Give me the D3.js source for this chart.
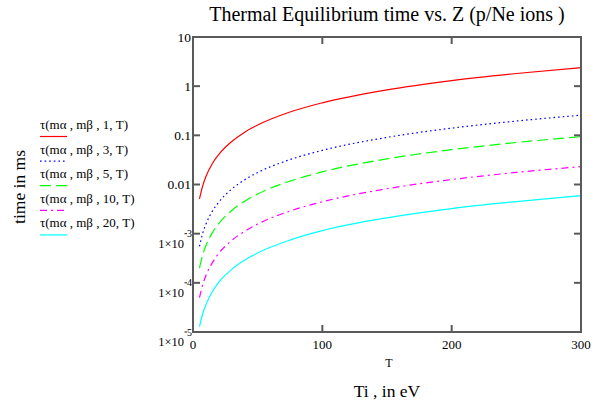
<!DOCTYPE html>
<html>
<head>
<meta charset="utf-8">
<script src="https://cdn.jsdelivr.net/npm/d3@7"></script>
<style>
  body { margin: 0; background: #fff; }
  svg text { font-family: "Liberation Serif", "Times New Roman", serif; fill: #000; }
</style>
</head>
<body>
<div id="chart"></div>
<script>
var width = 602;
var height = 405;

// temperature samples (eV)
var temps = [5, 7.5, 10, 15, 20, 30, 40, 50, 75, 100, 150, 200, 250, 300];

// tau in ms, one array per Z
var tauZ1  = [0.0051, 0.0094, 0.0145, 0.0267, 0.041, 0.075, 0.116, 0.162, 0.298, 0.459, 0.843, 1.30, 1.81, 2.38];
var tauZ3  = [5.5e-4, 1.02e-3, 1.56e-3, 2.87e-3, 4.4e-3, 8.1e-3, 0.0125, 0.0175, 0.0321, 0.0495, 0.0909, 0.140, 0.195, 0.257];
var tauZ5  = [2.0e-4, 3.7e-4, 5.7e-4, 1.05e-3, 1.62e-3, 2.97e-3, 4.57e-3, 6.4e-3, 0.0117, 0.0181, 0.0332, 0.0511, 0.0715, 0.094];
var tauZ10 = [5.0e-5, 9.1e-5, 1.41e-4, 2.58e-4, 4.0e-4, 7.3e-4, 1.12e-3, 1.57e-3, 2.89e-3, 4.45e-3, 8.2e-3, 0.0126, 0.0176, 0.0231];
var tauZ20 = [1.28e-5, 2.35e-5, 3.6e-5, 6.65e-5, 1.03e-4, 1.88e-4, 2.9e-4, 4.05e-4, 7.4e-4, 1.15e-3, 2.1e-3, 3.24e-3, 4.5e-3, 5.96e-3];

var legendLabels = ["τ(mα , mβ , 1, T)", "τ(mα , mβ , 3, T)", "τ(mα , mβ , 5, T)", "τ(mα , mβ , 10, T)", "τ(mα , mβ , 20, T)"];
var xTicks = [0, 100, 200, 300];
var yTicks = [10, 1, 0.1, 0.01, 1e-3, 1e-4, 1e-5];
var yTickLabels = ["10", "1", "0.1", "0.01", "1×10|3", "1×10|4", "1×10|5"];

var series = [
    {values: tauZ1,  color: "#ff0000", dash: null},
    {values: tauZ3,  color: "#0000ff", dash: "1.6,3"},
    {values: tauZ5,  color: "#00ff00", dash: "11,5"},
    {values: tauZ10, color: "#ff00ff", dash: "7,4,2,4"},
    {values: tauZ20, color: "#00ffff", dash: null}
];

var plot = {left: 193, right: 581, top: 37, bottom: 332};

var svg = d3.select("#chart").append("svg")
    .attr("width", width)
    .attr("height", height);

var x = d3.scaleLinear().domain([0, 300]).range([plot.left, plot.right]);
var y = d3.scaleLog().domain([1e-5, 10]).range([plot.bottom, plot.top]);

// curves
var line = d3.line()
    .x(d => x(d[0]))
    .y(d => y(d[1]))
    .curve(d3.curveMonotoneX);

series.forEach(s => {
    var pts = temps.map((t, i) => [t, s.values[i]]);
    svg.append("path")
        .attr("d", line(pts))
        .style("fill", "none")
        .style("stroke", s.color)
        .style("stroke-width", "1.2px")
        .style("stroke-dasharray", s.dash);
});

// frame
var frameColor = "#5a5a5a";
svg.append("rect")
    .attr("x", plot.left).attr("y", plot.top)
    .attr("width", plot.right - plot.left).attr("height", plot.bottom - plot.top)
    .style("fill", "none").style("stroke", frameColor).style("stroke-width", "2px");

var tickLen = 7;
// y ticks on both sides, pointing inward
svg.selectAll(".ytl").data(yTicks).enter().append("line")
    .attr("x1", plot.left).attr("x2", plot.left + tickLen)
    .attr("y1", d => y(d)).attr("y2", d => y(d))
    .style("stroke", frameColor).style("stroke-width", "2px");
svg.selectAll(".ytr").data(yTicks).enter().append("line")
    .attr("x1", plot.right - tickLen).attr("x2", plot.right)
    .attr("y1", d => y(d)).attr("y2", d => y(d))
    .style("stroke", frameColor).style("stroke-width", "2px");

// x ticks top and bottom
svg.selectAll(".xtb").data(xTicks).enter().append("line")
    .attr("x1", d => x(d)).attr("x2", d => x(d))
    .attr("y1", plot.bottom - tickLen).attr("y2", plot.bottom)
    .style("stroke", frameColor).style("stroke-width", "2px");
svg.selectAll(".xtt").data(xTicks).enter().append("line")
    .attr("x1", d => x(d)).attr("x2", d => x(d))
    .attr("y1", plot.top).attr("y2", plot.top + tickLen)
    .style("stroke", frameColor).style("stroke-width", "2px");

// x tick labels
svg.selectAll(".xlab").data(xTicks).enter().append("text")
    .attr("x", d => x(d)).attr("y", 349)
    .attr("text-anchor", "middle")
    .style("font-size", "13px")
    .text(d => d);

// y tick labels, exponent labels sit lower with superscript at the tick
yTicks.forEach((v, i) => {
    var lab = yTickLabels[i];
    if (lab.indexOf("|") < 0) {
        svg.append("text")
            .attr("x", 191).attr("y", y(v) + 4.5)
            .attr("text-anchor", "end")
            .style("font-size", "13.5px")
            .text(lab);
    } else {
        var parts = lab.split("|");
        svg.append("text")
            .attr("x", 184).attr("y", y(v) + 14)
            .attr("text-anchor", "end")
            .style("font-size", "12.5px")
            .text(parts[0]);
        // small minus sign then the exponent digit
        svg.append("line")
            .attr("x1", 184.5).attr("x2", 187)
            .attr("y1", y(v)).attr("y2", y(v))
            .style("stroke", "#000").style("stroke-width", "0.9px");
        svg.append("text")
            .attr("x", 192).attr("y", y(v) + 3.5)
            .attr("text-anchor", "end")
            .style("font-size", "10px")
            .text(parts[1]);
    }
});

// titles
svg.append("text")
    .attr("x", 387).attr("y", 21)
    .attr("text-anchor", "middle")
    .style("font-size", "20px")
    .text("Thermal Equilibrium time vs. Z (p/Ne ions )");

svg.append("text")
    .attr("x", 389).attr("y", 367)
    .attr("text-anchor", "middle")
    .style("font-size", "12px")
    .text("T");

svg.append("text")
    .attr("x", 387).attr("y", 397)
    .attr("text-anchor", "middle")
    .style("font-size", "17.5px")
    .text("Ti , in eV");

svg.append("text")
    .attr("transform", "translate(25,187) rotate(-90)")
    .attr("text-anchor", "middle")
    .style("font-size", "17.5px")
    .text("time in ms");

// legend
var legend = svg.selectAll(".leg").data(series).enter().append("g")
    .attr("transform", (d, i) => "translate(40," + (129 + i * 24.6) + ")");
legend.append("text")
    .attr("x", 0).attr("y", 0)
    .style("font-size", "13px")
    .text((d, i) => legendLabels[i]);
legend.append("line")
    .attr("x1", 0).attr("x2", 27)
    .attr("y1", 7.5).attr("y2", 7.5)
    .style("stroke", d => d.color)
    .style("stroke-width", "1.2px")
    .style("stroke-dasharray", d => d.dash);
</script>
</body>
</html>
